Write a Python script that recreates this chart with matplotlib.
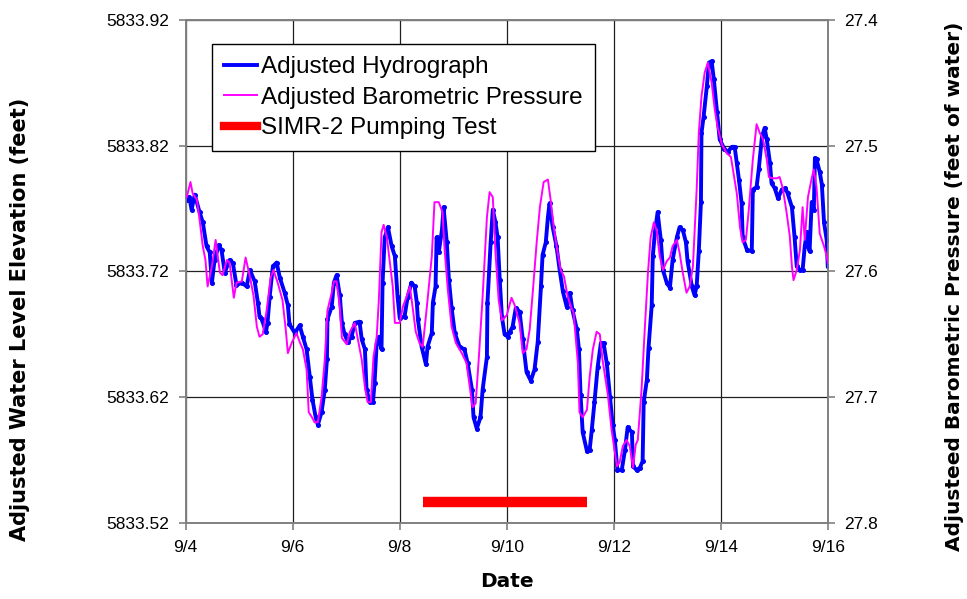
import matplotlib
matplotlib.use("Agg")
import matplotlib.pyplot as plt
import matplotlib.dates as mdates
from matplotlib.lines import Line2D
import numpy as np
import datetime as dt

plt.rcParams['font.family'] = ['Liberation Sans', 'DejaVu Sans']

# ---------------- data ----------------
start_date = dt.datetime(2009, 9, 4)

# Adjusted hydrograph (days since 9/4, elevation ft)
hydro_days = [0.02, 0.07, 0.11, 0.17, 0.26, 0.32, 0.39, 0.45, 0.49, 0.54, 0.62, 0.67, 0.73, 0.82, 0.88, 0.95,
              1.05, 1.14, 1.20, 1.29, 1.35, 1.38, 1.42, 1.50, 1.53, 1.57, 1.63, 1.70, 1.76, 1.85, 1.91, 1.94,
              2.04, 2.13, 2.19, 2.26, 2.32, 2.37, 2.43, 2.47, 2.54, 2.60, 2.64, 2.65, 2.73, 2.77, 2.82, 2.88,
              2.92, 2.97, 3.03, 3.10, 3.16, 3.25, 3.29, 3.35, 3.38, 3.44, 3.50, 3.53, 3.57, 3.61, 3.66, 3.68,
              3.72, 3.78, 3.85, 3.91, 3.96, 4.00, 4.09, 4.15, 4.22, 4.28, 4.32, 4.34, 4.41, 4.49, 4.52, 4.60,
              4.62, 4.67, 4.69, 4.73, 4.79, 4.82, 4.88, 4.92, 4.97, 5.03, 5.12, 5.21, 5.27, 5.35, 5.38, 5.44,
              5.51, 5.55, 5.63, 5.64, 5.70, 5.74, 5.79, 5.83, 5.87, 5.91, 5.96, 6.02, 6.06, 6.11, 6.17, 6.24,
              6.30, 6.37, 6.45, 6.52, 6.58, 6.64, 6.67, 6.73, 6.77, 6.80, 6.86, 6.93, 6.99, 7.05, 7.12, 7.18,
              7.23, 7.31, 7.35, 7.38, 7.42, 7.50, 7.55, 7.59, 7.64, 7.70, 7.76, 7.81, 7.87, 7.93, 7.98, 8.02,
              8.07, 8.15, 8.21, 8.26, 8.34, 8.36, 8.43, 8.49, 8.54, 8.56, 8.62, 8.65, 8.71, 8.73, 8.77, 8.82,
              8.88, 8.92, 8.99, 9.05, 9.10, 9.18, 9.23, 9.29, 9.35, 9.38, 9.46, 9.51, 9.55, 9.59, 9.63, 9.64,
              9.68, 9.74, 9.78, 9.83, 9.87, 9.93, 9.98, 10.07, 10.13, 10.21, 10.26, 10.30, 10.34, 10.39, 10.41,
              10.49, 10.58, 10.60, 10.67, 10.71, 10.77, 10.82, 10.86, 10.92, 10.95, 11.01, 11.07, 11.14, 11.21,
              11.25, 11.33, 11.38, 11.42, 11.48, 11.53, 11.57, 11.61, 11.66, 11.70, 11.74, 11.76, 11.79, 11.85,
              11.89, 11.93, 11.98, 12.00]
hydro_elev = [5833.777, 5833.779, 5833.769, 5833.781, 5833.767, 5833.759, 5833.740, 5833.735, 5833.711,
              5833.729, 5833.741, 5833.737, 5833.719, 5833.729, 5833.727, 5833.709,
              5833.711, 5833.708, 5833.721, 5833.712, 5833.695, 5833.684, 5833.682, 5833.672, 5833.679,
              5833.700, 5833.724, 5833.727, 5833.715, 5833.703, 5833.693, 5833.678,
              5833.671, 5833.677, 5833.668, 5833.658, 5833.636, 5833.618, 5833.604, 5833.598, 5833.608,
              5833.626, 5833.650, 5833.682, 5833.692, 5833.711, 5833.717, 5833.701,
              5833.679, 5833.670, 5833.664, 5833.668, 5833.679, 5833.680, 5833.666, 5833.658, 5833.626,
              5833.616, 5833.616, 5833.631, 5833.663, 5833.668, 5833.658, 5833.711,
              5833.747, 5833.755, 5833.740, 5833.732, 5833.700, 5833.683, 5833.684, 5833.700, 5833.711,
              5833.708, 5833.695, 5833.682, 5833.660, 5833.646, 5833.660, 5833.671,
              5833.695, 5833.708, 5833.747, 5833.735, 5833.753, 5833.771, 5833.743, 5833.713, 5833.691,
              5833.671, 5833.660, 5833.658, 5833.647, 5833.626, 5833.604, 5833.595,
              5833.604, 5833.626, 5833.652, 5833.695, 5833.743, 5833.769, 5833.759, 5833.747, 5833.713,
              5833.684, 5833.670, 5833.668, 5833.672, 5833.676, 5833.691, 5833.688,
              5833.666, 5833.640, 5833.633, 5833.642, 5833.664, 5833.708, 5833.733, 5833.743, 5833.763,
              5833.774, 5833.755, 5833.740, 5833.721, 5833.704, 5833.692, 5833.703,
              5833.689, 5833.674, 5833.658, 5833.622, 5833.592, 5833.577, 5833.578, 5833.594, 5833.616,
              5833.644, 5833.663, 5833.663, 5833.647, 5833.620, 5833.598, 5833.586,
              5833.562, 5833.562, 5833.578, 5833.596, 5833.592, 5833.565, 5833.562, 5833.564, 5833.569,
              5833.616, 5833.634, 5833.659, 5833.693, 5833.732, 5833.751, 5833.767,
              5833.745, 5833.721, 5833.711, 5833.707, 5833.729, 5833.747, 5833.755, 5833.753, 5833.743,
              5833.728, 5833.708, 5833.701, 5833.708, 5833.736, 5833.775, 5833.830,
              5833.843, 5833.867, 5833.886, 5833.887, 5833.873, 5833.847, 5833.825, 5833.817, 5833.815,
              5833.819, 5833.819, 5833.806, 5833.793, 5833.774, 5833.747,
              5833.737, 5833.736, 5833.785, 5833.787, 5833.801, 5833.827, 5833.834, 5833.825, 5833.806,
              5833.790, 5833.786, 5833.778, 5833.785, 5833.786,
              5833.782, 5833.771, 5833.747, 5833.724, 5833.721, 5833.721, 5833.740, 5833.751, 5833.736,
              5833.775, 5833.769, 5833.810, 5833.809, 5833.799,
              5833.789, 5833.759, 5833.745, 5833.724]

# Adjusted barometric pressure (days since 9/4, feet of water)
baro_days = [0.02, 0.09, 0.13, 0.21, 0.26, 0.32, 0.37, 0.41, 0.49, 0.56, 0.64, 0.69, 0.77, 0.82, 0.90, 0.95,
             1.05, 1.12, 1.20, 1.27, 1.33, 1.38, 1.44, 1.51, 1.59, 1.64, 1.72, 1.81, 1.87, 1.91, 1.98,
             2.07, 2.13, 2.19, 2.26, 2.30, 2.36, 2.41, 2.47, 2.54, 2.60, 2.65, 2.73, 2.77, 2.82, 2.88, 2.92,
             3.01, 3.07, 3.16, 3.21, 3.29, 3.35, 3.40, 3.46, 3.51, 3.57, 3.61, 3.66, 3.70, 3.76, 3.81, 3.87,
             3.91, 4.00, 4.06, 4.13, 4.19, 4.24, 4.30, 4.37, 4.43, 4.52, 4.60, 4.65, 4.73, 4.80, 4.84, 4.90,
             4.97, 5.05, 5.16, 5.25, 5.31, 5.36, 5.42, 5.48, 5.55, 5.63, 5.68, 5.74, 5.79, 5.85, 5.91,
             6.00, 6.09, 6.15, 6.24, 6.30, 6.37, 6.43, 6.49, 6.56, 6.62, 6.69, 6.77, 6.82, 6.88, 6.95,
             7.01, 7.07, 7.14, 7.20, 7.25, 7.33, 7.36, 7.42, 7.50, 7.55, 7.61, 7.68, 7.74, 7.79, 7.89, 7.96,
             8.06, 8.11, 8.17, 8.24, 8.30, 8.36, 8.41, 8.45, 8.52, 8.58, 8.64, 8.69, 8.75, 8.80, 8.86, 8.92,
             8.99, 9.05, 9.10, 9.18, 9.23, 9.29, 9.36, 9.42, 9.48, 9.55, 9.59, 9.64, 9.70, 9.76, 9.83, 9.89,
             9.94, 10.02, 10.11, 10.19, 10.24, 10.30, 10.36, 10.41, 10.47, 10.52, 10.60, 10.67, 10.73, 10.79,
             10.86, 10.90, 10.97, 11.05, 11.10, 11.16, 11.23, 11.29, 11.33, 11.36, 11.42, 11.48, 11.53, 11.57,
             11.63, 11.70, 11.74, 11.79, 11.85, 11.93, 11.98, 12.00]
baro_ft = [27.541, 27.529, 27.538, 27.543, 27.559, 27.580, 27.591, 27.612, 27.596, 27.575, 27.601, 27.603,
           27.591, 27.593, 27.621, 27.609,
           27.608, 27.589, 27.604, 27.620, 27.644, 27.652, 27.650, 27.632, 27.605, 27.599, 27.609, 27.623,
           27.646, 27.665, 27.657,
           27.649, 27.656, 27.662, 27.678, 27.712, 27.716, 27.720, 27.720, 27.700, 27.670, 27.631, 27.617,
           27.608, 27.608, 27.628, 27.653,
           27.658, 27.648, 27.641, 27.652, 27.670, 27.692, 27.704, 27.704, 27.668, 27.652, 27.623, 27.569,
           27.563, 27.573, 27.591, 27.612,
           27.641, 27.641, 27.628, 27.620, 27.612, 27.628, 27.648, 27.657, 27.660, 27.623, 27.588, 27.545,
           27.545, 27.553, 27.583, 27.615,
           27.644, 27.657, 27.665, 27.673, 27.692, 27.708, 27.705, 27.668, 27.620, 27.557, 27.537, 27.541,
           27.585, 27.623, 27.639,
           27.635, 27.621, 27.627, 27.641, 27.665, 27.662, 27.646, 27.615, 27.577, 27.549, 27.529, 27.527,
           27.543, 27.565, 27.585,
           27.599, 27.604, 27.620, 27.628, 27.633, 27.673, 27.712, 27.716, 27.710, 27.684, 27.662, 27.648,
           27.650, 27.670, 27.698, 27.726,
           27.755, 27.752, 27.739, 27.734, 27.739, 27.756, 27.738, 27.734, 27.694, 27.646, 27.601, 27.573,
           27.561, 27.567, 27.588, 27.599,
           27.592, 27.589, 27.580, 27.575, 27.585, 27.601, 27.617, 27.612, 27.596, 27.535, 27.490, 27.461,
           27.442, 27.434, 27.450, 27.472,
           27.485, 27.499, 27.506, 27.509, 27.522, 27.538, 27.565, 27.577, 27.575, 27.553, 27.511, 27.483,
           27.490, 27.495,
           27.511, 27.525, 27.526, 27.526, 27.525, 27.534, 27.553, 27.572, 27.596, 27.607, 27.599, 27.583,
           27.549, 27.575,
           27.541, 27.526, 27.519, 27.533, 27.570, 27.580, 27.588, 27.593]

# SIMR-2 pumping test period (days since 9/4) and plotting level (ft)
pump_days = [4.43, 7.50]
pump_level = [5833.537, 5833.537]

left_ticks = [5833.52, 5833.62, 5833.72, 5833.82, 5833.92]
right_ticks = [27.4, 27.5, 27.6, 27.7, 27.8]
x_tick_days = [0, 2, 4, 6, 8, 10, 12]
x_tick_labels = ['9/4', '9/6', '9/8', '9/10', '9/12', '9/14', '9/16']

# ---------------- plot ----------------
base = mdates.date2num(start_date)
hx = base + np.array(hydro_days)
bx = base + np.array(baro_days)
px = base + np.array(pump_days)

tick_font = ['Liberation Sans', 'DejaVu Sans']
label_font = ['DejaVu Sans']

fig = plt.figure(figsize=(9.67, 5.99), dpi=100)
ax = fig.add_axes([0.192, 0.127, 0.664, 0.840])
ax2 = ax.twinx()

ax.plot(px, pump_level, color='#FF0000', lw=7.5, solid_capstyle='butt', zorder=3)
ax.plot(hx, hydro_elev, color='#0000FF', lw=2.8, marker='o', ms=2.6, zorder=4)
ax2.plot(bx, baro_ft, color='#FF00FF', lw=1.4, zorder=5)

ax.set_xlim(base, base + 12)
ax.set_ylim(5833.52, 5833.92)
ax2.set_ylim(27.8, 27.4)

ax.set_xticks(base + np.array(x_tick_days))
ax.set_xticklabels(x_tick_labels, family=tick_font, fontsize=12.5)
ax.set_yticks(left_ticks)
ax.set_yticklabels(['%.2f' % v for v in left_ticks], family=tick_font, fontsize=12.5)
ax2.set_yticks(right_ticks)
ax2.set_yticklabels(['%.1f' % v for v in right_ticks], family=tick_font, fontsize=12.5)

ax.grid(True, color='#202020', lw=0.9)
for a in (ax, ax2):
    for s in a.spines.values():
        s.set_color('#808080')
        s.set_linewidth(1.2)
ax.tick_params(axis='both', length=5, color='#808080', width=1.2, pad=7)
ax2.tick_params(axis='y', length=5, color='#808080', width=1.2, pad=7)

ax.set_xlabel('Date', fontsize=14.5, fontweight='bold', family=label_font)
ax.set_ylabel('Adjusted Water Level Elevation (feet)', fontsize=15, fontweight='bold', family=label_font)
ax2.set_ylabel('Adjusteed Barometric Pressure (feet of water)', fontsize=14.5, fontweight='bold',
               family=label_font, rotation=90)
ax.xaxis.set_label_coords(0.5, -0.098)
ax.yaxis.set_label_coords(-0.243, 0.404)
ax2.yaxis.set_label_coords(1.182, 0.471)

handles = [Line2D([], [], color='#0000FF', lw=2.8),
           Line2D([], [], color='#FF00FF', lw=1.4),
           Line2D([], [], color='#FF0000', lw=6)]
labels = ['Adjusted Hydrograph', 'Adjusted Barometric Pressure', 'SIMR-2 Pumping Test']
leg = ax2.legend(handles, labels, loc='upper left', bbox_to_anchor=(0.0405, 0.952), fontsize=17.5,
                 frameon=True, fancybox=False, edgecolor='black', framealpha=1, borderaxespad=0,
                 handlelength=1.35, handletextpad=0.2, borderpad=0.5, labelspacing=0.35)
leg.get_frame().set_linewidth(1.0)

fig.savefig('out.png', dpi=100)
